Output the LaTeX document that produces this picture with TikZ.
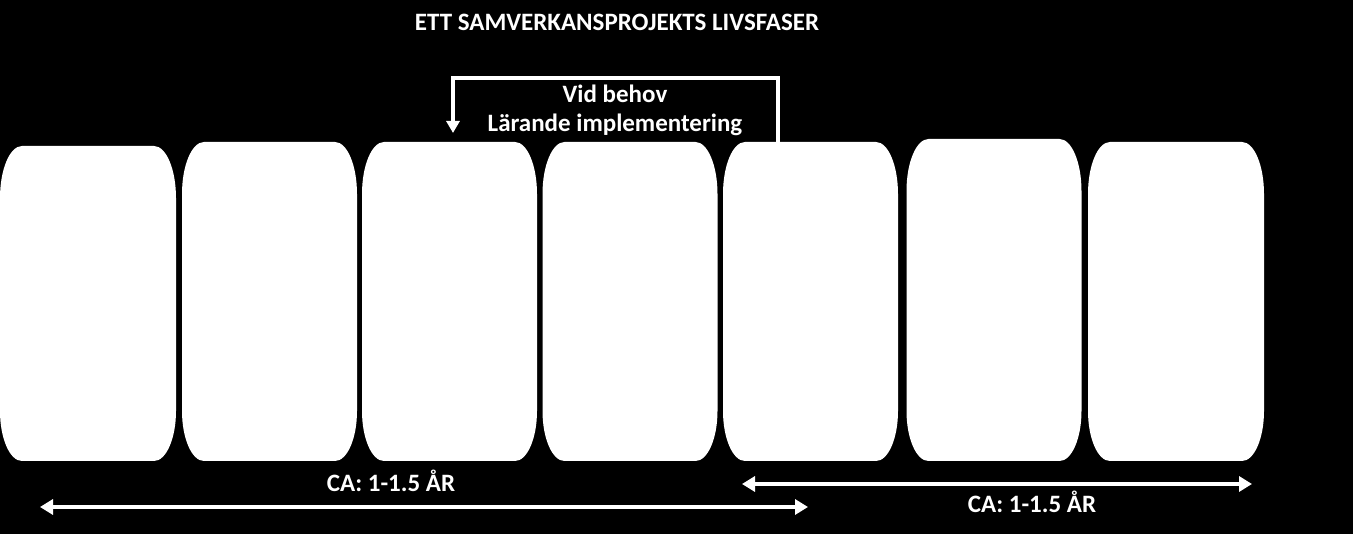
\documentclass[tikz,border=0pt]{standalone}
\usepackage{fontspec}
\setmainfont{Carlito}
\usetikzlibrary{arrows.meta,calc}
\tikzset{
  phase/.style={minimum width=175pt, minimum height=319pt, inner sep=0pt, outer sep=0pt, draw=none},
  conn/.style={draw=white, line width=3.5pt},
  span/.style={draw=white, line width=4pt, {Triangle[width=15pt,length=13pt]}-{Triangle[width=15pt,length=13pt]}},
  lbl/.style={text=white, font=\bfseries\fontsize{25}{29}\selectfont, inner sep=0pt, anchor=base},
}
\begin{document}
\begin{tikzpicture}[x=1pt,y=-1pt]
\fill[black] (0,0) rectangle (1353,534);
\useasboundingbox (0,0) rectangle (1353,534);
% phase boxes (invisible anchors)
\node[phase, minimum width=176pt, minimum height=315pt] (b1) at (88,303.5) {};
\node[phase] (b2) at (269.5,301.5) {};
\node[phase] (b3) at (449.5,301.5) {};
\node[phase] (b4) at (630,301.5) {};
\node[phase] (b5) at (810.5,301.5) {};
\node[phase, minimum height=322pt] (b6) at (994,300) {};
\node[phase, minimum width=176pt] (b7) at (1176,301.5) {};
\foreach \n in {b1,b2,b3,b4,b5,b6,b7}{
  \fill[white]
    ($(\n.north west)+(0,52)$)
    arc[start angle=180, end angle=270, x radius=22, y radius=52]
    -- ($(\n.north east)+(-22,0)$)
    arc[start angle=270, end angle=360, x radius=22, y radius=52]
    -- ($(\n.south east)+(0,-50)$)
    arc[start angle=0, end angle=90, x radius=22, y radius=50]
    -- ($(\n.south west)+(22,0)$)
    arc[start angle=90, end angle=180, x radius=22, y radius=50]
    -- cycle;
}
% title
\node[lbl] (title) at (617,30.5) {ETT SAMVERKANSPROJEKTS LIVSFASER};
% loop-back connector
\coordinate (ls) at ($(b5.north)+(-32.5,0)$);
\coordinate (le) at ($(b3.north)+(3.5,-9)$);
\draw[conn, -{Triangle[width=13pt,length=12pt]}] (ls) -- ++(0,-64) -| (le);
\node[lbl] (vid) at (615,103) {Vid behov};
\node[lbl] (lar) at (615,131.5) {Lärande implementering};
% duration spans
\coordinate (s1a) at (40,507);
\coordinate (s1b) at (808,507);
\coordinate (s2a) at (742,484);
\coordinate (s2b) at (1252,484);
\draw[span] (s1a) -- (s1b);
\draw[span] (s2a) -- (s2b);
\node[lbl] (ca1) at (391,492) {CA: 1-1.5 ÅR};
\node[lbl] (ca2) at (1032,513) {CA: 1-1.5 ÅR};
\end{tikzpicture}
\end{document}
